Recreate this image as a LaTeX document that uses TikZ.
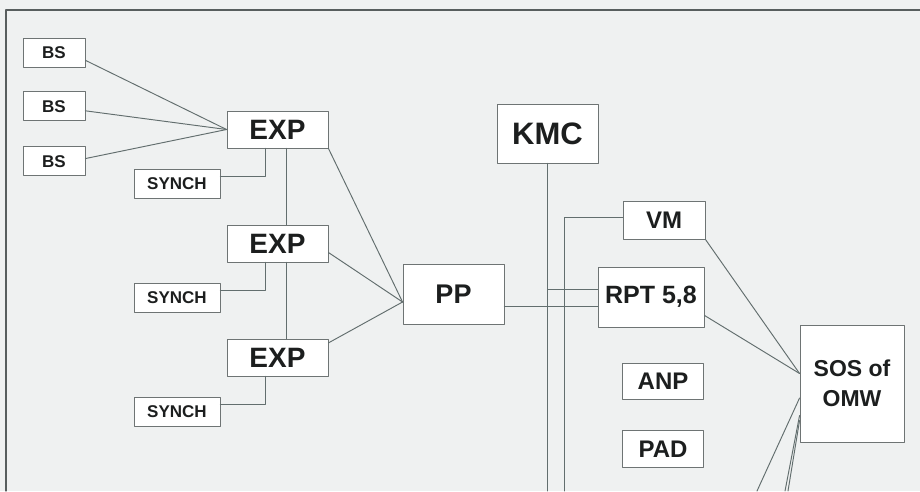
\documentclass[tikz,border=0pt]{standalone}
\usepackage{fontspec}
\setmainfont{Liberation Sans}
\usetikzlibrary{positioning}
\begin{document}
\begin{tikzpicture}[x=1pt,y=-1pt,line join=round,line cap=round,
        khoi/.style={draw=vien,fill=white,line width=.9pt,inner sep=0pt,text=chu},
        nho/.style={khoi,minimum width=62pt,minimum height=29pt,font=\fontsize{17}{19}\selectfont\bfseries},
        vua/.style={khoi,font=\fontsize{24}{30}\selectfont\bfseries},
        lon/.style={khoi,minimum width=101pt,font=\fontsize{28}{32}\selectfont\bfseries},
        day/.style={draw=wire,line width=.95pt}]
    \definecolor{paper}{RGB}{239,241,241}
    \definecolor{wire}{RGB}{98,110,110}
    \definecolor{vien}{RGB}{110,116,116}
    \definecolor{chu}{RGB}{28,30,30}
    \definecolor{khung}{RGB}{88,94,94}
    \useasboundingbox (0,0) rectangle (920,491);
    \fill[paper] (0,0) rectangle (920,491);
    \draw[khung,line width=1.2pt] (920,10) -- (6,10) -- (6,491);
    % bottom ends of the cut-off lines
    \coordinate (bot) at (0,491);
    \coordinate (bus) at (564,491);
    \coordinate (o1) at (757,491);
    \coordinate (o2) at (785,491);
    \coordinate (o3) at (788,491);
    % left part
    \node[nho] (bs1) at (54,52.5) {BS};
    \node[nho,below=24pt of bs1] (bs2) {BS};
    \node[nho,below=25pt of bs2] (bs3) {BS};
    \foreach \i/\y in {1/129.5,2/243.5,3/357.5}{
        \node[lon,minimum height=37pt] (exp\i) at (277.5,\y) {EXP};
        \node[nho,minimum width=86pt] (synch\i) at (177,\y+54) {SYNCH};
        \draw[day] ([xshift=-12.5pt]exp\i.south) |- ([yshift=7pt]synch\i.east);
    }
    \draw[day] (bs1.-14) -- (exp1.west);
    \draw[day] (bs2.-8) -- (exp1.west);
    \draw[day] (bs3.5) -- (exp1.west);
    \draw[day] ([xshift=8.5pt]exp1.south) -- ([xshift=8.5pt]exp2.north);
    \draw[day] ([xshift=8.5pt]exp2.south) -- ([xshift=8.5pt]exp3.north);
    % middle part
    \node[lon,minimum height=60pt,font=\fontsize{27}{32}\selectfont\bfseries] (pp) at (453.5,294) {PP};
    \node[lon,minimum height=59pt,font=\fontsize{31}{36}\selectfont\bfseries] (kmc) at (547.5,133.5) {KMC};
    \draw[day] (exp1.south east) -- ([yshift=-8pt]pp.west);
    \draw[day] (exp2.-10) -- ([yshift=-8pt]pp.west);
    \draw[day] (exp3.16) -- ([yshift=-8pt]pp.west);
    % right part
    \node[vua,minimum width=82pt,minimum height=38pt] (vm) at (664,220) {VM};
    \node[vua,minimum width=106pt,minimum height=60pt,font=\fontsize{25}{30}\selectfont\bfseries] (rpt) at (651,297) {RPT 5,8};
    \node[vua,minimum width=81pt,minimum height=36pt] (anp) at (663,381) {ANP};
    \node[vua,minimum width=81pt,minimum height=37pt,below=31pt of anp] (pad) {PAD};
    \node[vua,minimum width=104pt,minimum height=117pt,align=center,font=\fontsize{23}{30}\selectfont\bfseries] (sos) at (852,383.5) {SOS of\\OMW};
    \coordinate (rptA) at ([yshift=8pt]rpt.west);
    \coordinate (rptB) at ([yshift=-9pt]rpt.west);
    \coordinate (sosIn) at ([yshift=10pt]sos.west);
    \draw[day] (kmc.south) -- (kmc.south |- bot);
    \draw[day] ([yshift=3pt]vm.west) -| (bus);
    \draw[day] (rptA -| kmc.south) -- (rptA);
    \draw[day] (rptB -| pp.east) -- (rptB);
    \draw[day] (vm.south east) -- (sosIn);
    \draw[day] (rpt.-19) -- (sosIn);
    \draw[day] ([yshift=-14.5pt]sos.west) -- (o1);
    \draw[day] ([yshift=-32pt]sos.west) -- (o2);
    \draw[day] ([yshift=-37pt]sos.west) -- (o3);
\end{tikzpicture}
\end{document}
